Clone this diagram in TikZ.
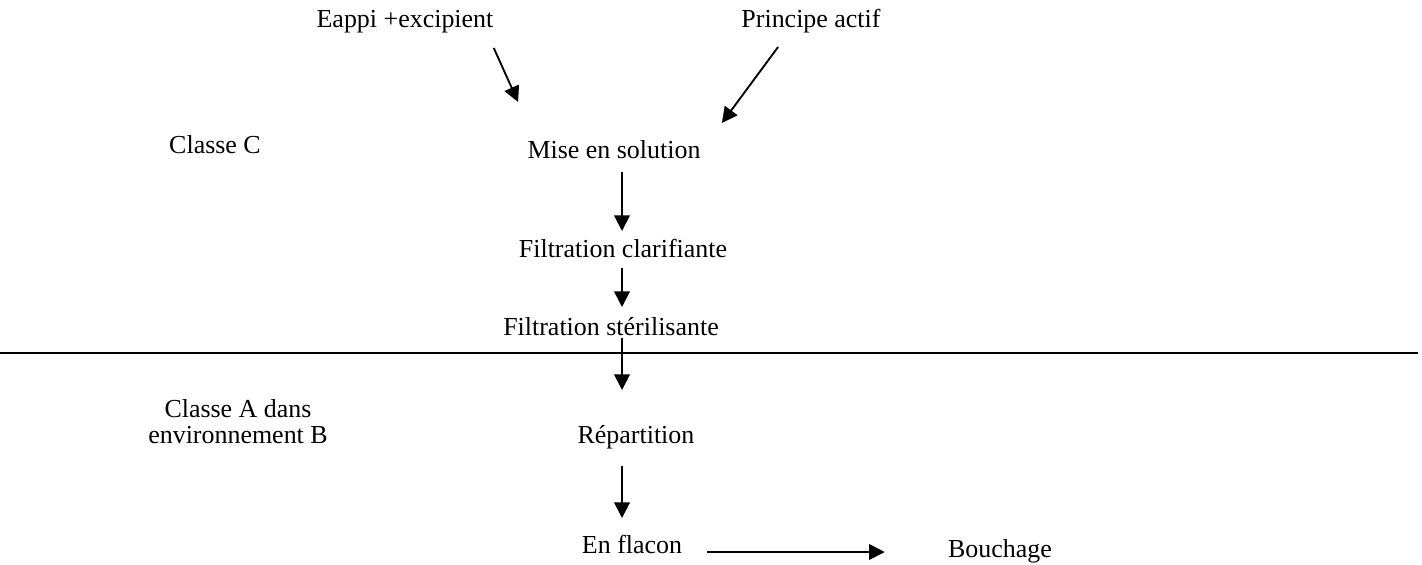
\documentclass[tikz,border=0pt]{standalone}
\usepackage{fontspec}
\setmainfont{Liberation Serif}
\usetikzlibrary{arrows.meta, calc}

\begin{document}
\begin{tikzpicture}[x=0.4818pt, y=-0.4818pt,
  lbl/.style={inner sep=0pt, anchor=base, font=\fontsize{12.5}{12.5}\selectfont},
  arr/.style={line width=0.9pt, -{Triangle[length=7.5pt, width=7.5pt]}}]
% Process flow
\useasboundingbox (0,0) rectangle (1422,564);
\foreach \name/\x/\y/\txt in {eappi/405/27/Eappi +excipient, principe/811/27/Principe actif,
    classec/215/153/Classe C, mise/614/158/Mise en solution, clar/623/257/Filtration clarifiante,
    ster/611/335/Filtration stérilisante, rep/636/443/Répartition, flacon/632/553/En flacon,
    bouchage/1000/557/Bouchage} {
    \node[lbl] (\name) at (\x,\y) {\txt};
}
\node[lbl, anchor=center, align=center] (classea) at (238,422) {Classe A dans\\environnement B};
\coordinate (axis) at (622,0);
\draw[line width=0.9pt] (0,353) -- (1418,353);
\draw[arr] ($(eappi.base east)+(0,21)$) -- ($(mise.base west)+(-9,-56)$);
\draw[arr] ($(principe.base west)+(37,20)$) -- ($(mise.base east)+(21,-35)$);
\draw[arr] ($(mise.base -| axis)+(0,14)$) -- ($(clar.base -| axis)+(0,-26)$);
\draw[arr] ($(clar.base -| axis)+(0,11)$) -- ($(ster.base -| axis)+(0,-28)$);
\draw[arr] ($(ster.base -| axis)+(0,3)$) -- ($(rep.base -| axis)+(0,-53)$);
\draw[arr] ($(rep.base -| axis)+(0,23)$) -- ($(flacon.base -| axis)+(0,-35)$);
\draw[arr] ($(flacon.base east)+(25,-1)$) -- ($(bouchage.base west |- flacon.base)+(-63,-1)$);
\end{tikzpicture}
\end{document}
